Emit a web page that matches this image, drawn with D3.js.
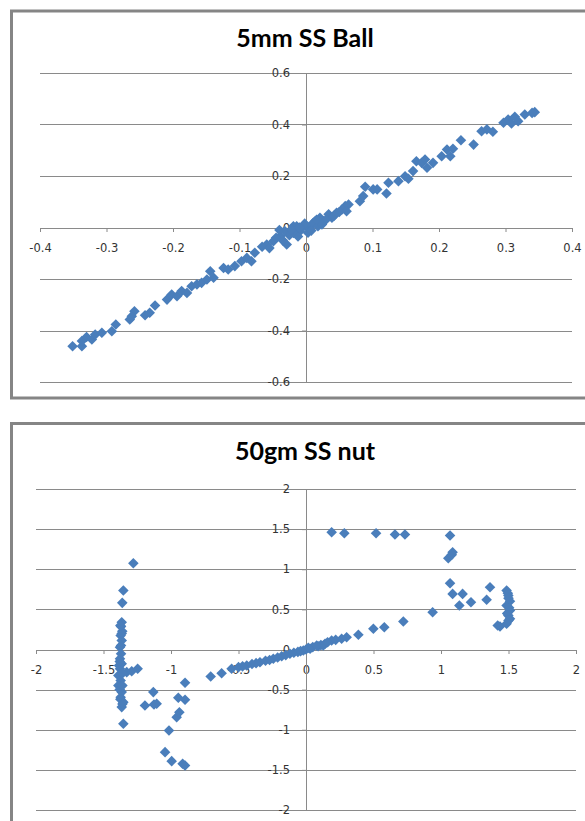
<!DOCTYPE html>
<html lang="en">
<head>
    <meta charset="UTF-8">
    <title>SS Ball / SS nut scatter</title>
    <script src="https://d3js.org/d3.v7.min.js"></script>
    <style>
        body { margin: 0; background: #fff; }
        .tick text { font-family: "DejaVu Sans", sans-serif; font-size: 11.5px; fill: #333; }
        .title { font-family: "Lato", sans-serif; font-weight: bold; font-size: 25px; fill: #000; }
    </style>
</head>
<body>
    <svg id="canvas" width="585" height="821"></svg>
    <script>
        // chart 1 - 5mm SS Ball
        let ballTitle = "5mm SS Ball";
        let ballXTicks = [-0.4, -0.3, -0.2, -0.1, 0, 0.1, 0.2, 0.3, 0.4];
        let ballYTicks = [-0.6, -0.4, -0.2, 0, 0.2, 0.4, 0.6];
        let ballX = [-0.351, -0.337, -0.337, -0.330, -0.322, -0.317, -0.307, -0.292, -0.286, -0.265, -0.258, -0.262,
            -0.242, -0.235, -0.227, -0.209, -0.202, -0.194, -0.187, -0.179, -0.172, -0.164, -0.157, -0.149, -0.144,
            -0.139, -0.124, -0.117, -0.107, -0.097, -0.089, -0.082, -0.077, -0.059, -0.049, -0.039, -0.029, -0.032,
            -0.019, -0.009, 0.001, 0.011, -0.019, -0.014, -0.006, 0.006, 0.014, 0.021, 0.026, 0.034, 0.039, 0.046,
            0.054, 0.059, 0.064, 0.061, 0.081, 0.086, 0.089, 0.101, 0.107, 0.121, 0.124, 0.139, 0.149, 0.154, 0.161,
            0.166, 0.174, 0.179, 0.182, 0.191, 0.204, 0.212, 0.217, 0.221, 0.233, 0.252, 0.264, 0.272, 0.281, 0.297,
            0.304, 0.309, 0.314, 0.319, 0.329, 0.344, 0.340,
            -0.045, -0.025, -0.012, 0.003, 0.009, 0.018, 0.030, -0.040, -0.002, 0.050, -0.066, -0.055,
            -0.035, -0.022, 0.008, 0.024, 0.042, -0.010, 0.016];
        let ballY = [-0.461, -0.461, -0.441, -0.425, -0.435, -0.416, -0.409, -0.403, -0.377, -0.357, -0.325, -0.345,
            -0.341, -0.331, -0.303, -0.280, -0.260, -0.267, -0.247, -0.254, -0.228, -0.221, -0.215, -0.202, -0.170,
            -0.195, -0.157, -0.163, -0.150, -0.131, -0.118, -0.131, -0.098, -0.066, -0.053, -0.034, -0.066, -0.014,
            0.005, -0.014, 0.005, 0.018, -0.021, 0.005, -0.001, -0.008, 0.025, 0.038, 0.025, 0.051, 0.038, 0.057,
            0.070, 0.083, 0.089, 0.063, 0.102, 0.122, 0.158, 0.148, 0.148, 0.132, 0.174, 0.180, 0.199, 0.189, 0.219,
            0.257, 0.251, 0.264, 0.232, 0.251, 0.277, 0.303, 0.277, 0.306, 0.339, 0.322, 0.374, 0.381, 0.372, 0.407,
            0.419, 0.404, 0.430, 0.413, 0.439, 0.448, 0.445,
            -0.040, -0.030, -0.035, -0.020, 0.010, 0.005, 0.030, -0.010, 0.015, 0.060, -0.075, -0.080,
            -0.050, -0.008, -0.012, 0.012, 0.045, 0.000, 0.030];

        // chart 2 - 50gm SS nut
        let nutTitle = "50gm SS nut";
        let nutXTicks = [-2, -1.5, -1, -0.5, 0, 0.5, 1, 1.5, 2];
        let nutYTicks = [-2, -1.5, -1, -0.5, 0, 0.5, 1, 1.5, 2];
        let nutX = [-1.279, -1.353, -1.361, -1.365, -1.370, -1.361, -1.373, -1.365, -1.378, -1.370, -1.378, -1.365,
            -1.378, -1.328, -1.291, -1.247, -1.390, -1.373, -1.390, -1.365, -1.373, -1.353, -1.365, -1.353, -1.193,
            -1.131, -1.126, -1.106, -1.015, -1.044, -0.995, -0.914, -0.896, -0.958, -0.938, -0.946, -0.896, -0.896,
            -0.706, -0.625, -0.551, -0.439, -0.341, -0.242, -0.119, -0.020, 0.128,
            -0.50, -0.47, -0.40, -0.37, -0.30, -0.27, -0.21, -0.18, -0.15, -0.09, -0.06, -0.04, 0.0, 0.03, 0.05, 0.09, 0.11,
            -1.37, -1.385, -1.36, -1.38, -1.36, -1.375, -1.36, -1.38, -1.365, -1.375,
            0.190, 0.284, 0.519, 0.659, 0.733, 1.067, 1.086, 1.054, 1.067, 1.086, 1.160, 1.136, 1.222, 1.338, 1.363,
            1.486, 1.499, 1.511, 1.486, 1.511, 1.499, 1.511, 1.486, 1.437, 1.420, 0.938, 0.721, 0.580, 0.499, 0.388,
            0.301, 0.264, 0.190, 0.141, 0.079, 0.017,
            1.495, 1.505, 1.49, 1.50, 1.50, 1.08, 0.16, 0.22];
        let nutY = [1.075, 0.735, 0.581, 0.340, 0.286, 0.228, 0.174, 0.112, 0.029, -0.054, -0.116, -0.178,
            -0.240, -0.282, -0.270, -0.240, -0.324, -0.386, -0.448, -0.531, -0.594, -0.656, -0.718, -0.925, -0.697,
            -0.531, -0.685, -0.677, -1.009, -1.279, -1.391, -1.424, -1.445, -0.843, -0.781, -0.602, -0.626, -0.415,
            -0.336, -0.295, -0.240, -0.199, -0.158, -0.116, -0.054, -0.012, 0.050,
            -0.22, -0.21, -0.18, -0.17, -0.14, -0.13, -0.10, -0.085, -0.07, -0.04, -0.03, -0.02, 0.0, 0.01, 0.03, 0.04, 0.055,
            0.05, -0.2, -0.3, -0.5, -0.45, -0.62, -0.68, -0.15, 0.2, 0.3,
            1.461, 1.448, 1.448, 1.432, 1.432, 1.420, 1.212, 1.137, 0.826, 0.693, 0.693, 0.548, 0.589, 0.619, 0.776,
            0.735, 0.672, 0.602, 0.548, 0.486, 0.423, 0.382, 0.320, 0.286, 0.299, 0.465, 0.349, 0.278, 0.258, 0.183,
            0.153, 0.133, 0.112, 0.071, 0.050, 0.021,
            0.70, 0.52, 0.45, 0.36, 0.64, 1.18, 0.09, 0.12];

        let canvas = d3.select("#canvas");
        let lineColor = "#8a8a8a";
        let markerColor = "#4a7ebb";
        let fmt = (v) => String(+v.toFixed(2));

        let drawChart = (opts) => {
            let g = canvas.append("g");

            // frame (right side runs off the picture)
            g.append("rect")
                .attr("x", 11.5)
                .attr("y", opts.frameTop)
                .attr("width", 590)
                .attr("height", opts.frameHeight)
                .attr("fill", "#fff")
                .attr("stroke", "#858585")
                .attr("stroke-width", 3);

            g.append("text")
                .attr("class", "title")
                .attr("x", 305)
                .attr("y", opts.titleY)
                .attr("text-anchor", "middle")
                .text(opts.title);

            let xScale = d3.scaleLinear().domain(opts.xDomain).range(opts.xRange);
            let yScale = d3.scaleLinear().domain(opts.yDomain).range(opts.yRange);

            // horizontal gridlines
            g.selectAll(".grid")
                .data(opts.yTicks)
                .enter()
                .append("line")
                .attr("x1", opts.xRange[0])
                .attr("x2", opts.xRange[1])
                .attr("y1", (d) => Math.round(yScale(d)) + 0.5)
                .attr("y2", (d) => Math.round(yScale(d)) + 0.5)
                .attr("stroke", lineColor);

            let xAxis = d3.axisBottom(xScale)
                .tickValues(opts.xTicks)
                .tickFormat(fmt)
                .tickSize(4)
                .tickSizeOuter(0)
                .tickPadding(12);
            let yAxis = d3.axisLeft(yScale)
                .tickValues(opts.yTicks)
                .tickFormat(fmt)
                .tickSize(4)
                .tickSizeOuter(0)
                .tickPadding(12);

            let gx = g.append("g")
                .attr("transform", `translate(0, ${Math.round(yScale(0))})`)
                .call(xAxis);
            let gy = g.append("g")
                .attr("transform", `translate(${Math.round(xScale(0))}, 0)`)
                .call(yAxis);
            [gx, gy].forEach((a) => {
                a.selectAll("path, line").attr("stroke", lineColor);
            });

            let points = opts.xs.map((x, i) => [x, opts.ys[i]]);
            let diamond = d3.symbol().type(d3.symbolSquare).size(56);
            g.append("g")
                .selectAll("path")
                .data(points)
                .enter()
                .append("path")
                .attr("d", diamond)
                .attr("fill", markerColor)
                .attr("transform", (p) => `translate(${xScale(p[0])}, ${yScale(p[1])}) rotate(45)`);
        };

        drawChart({
            title: ballTitle, titleY: 47, frameTop: 11, frameHeight: 387,
            xDomain: [-0.4, 0.4], xRange: [40, 572],
            yDomain: [-0.6, 0.6], yRange: [382, 73],
            xTicks: ballXTicks, yTicks: ballYTicks, xs: ballX, ys: ballY
        });

        drawChart({
            title: nutTitle, titleY: 460, frameTop: 423.5, frameHeight: 420,
            xDomain: [-2, 2], xRange: [36, 576],
            yDomain: [-2, 2], yRange: [810, 489],
            xTicks: nutXTicks, yTicks: nutYTicks, xs: nutX, ys: nutY
        });
    </script>
</body>
</html>
